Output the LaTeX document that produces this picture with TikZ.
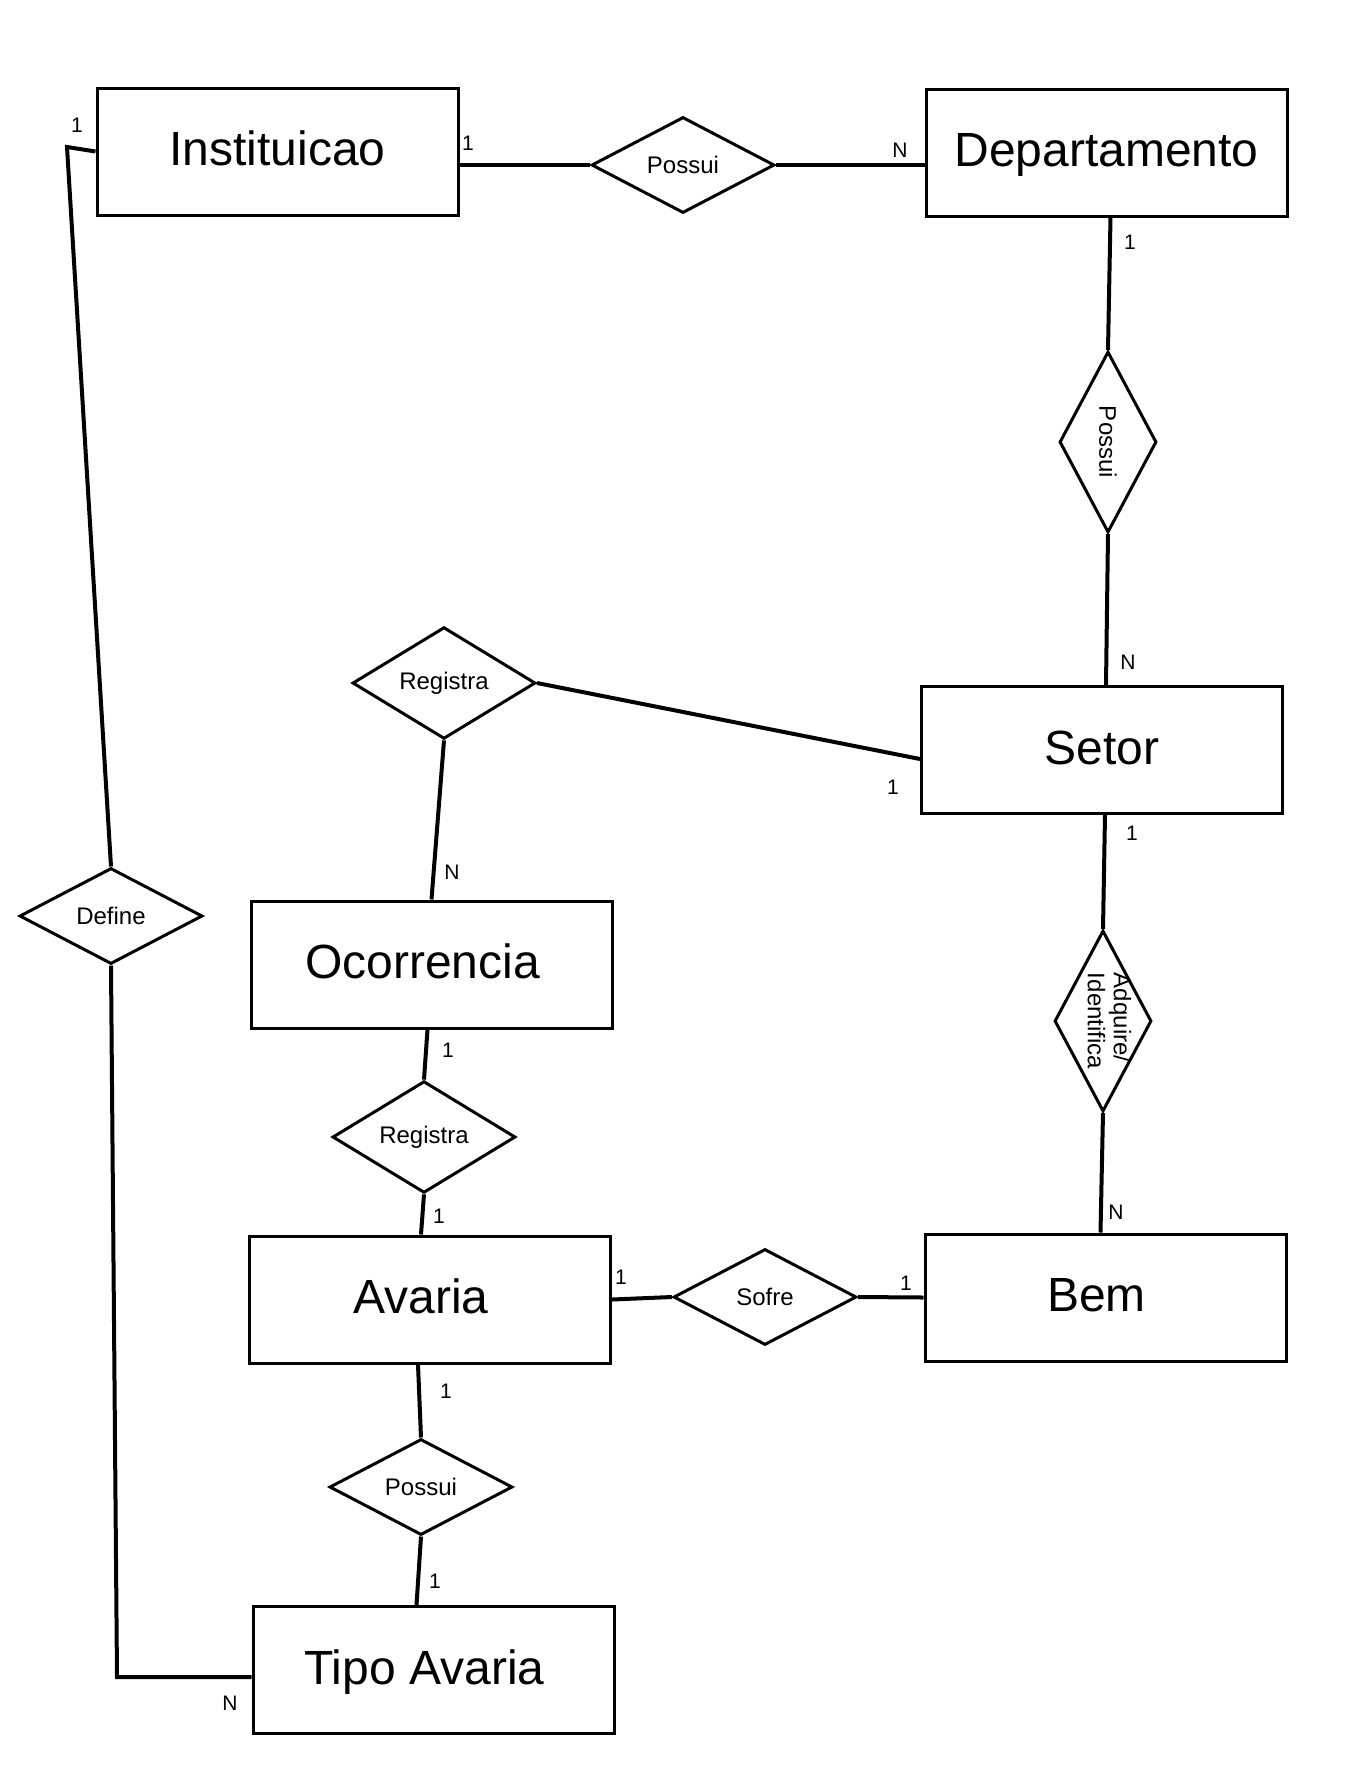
\documentclass[tikz,border=0pt]{standalone}
\usepackage{fontspec}
\setmainfont{Liberation Sans}
\usetikzlibrary{shapes.geometric}

\tikzset{
	entity/.style   = {rectangle,draw,line width=1.5pt,minimum width=180.5pt,minimum height=63.5pt,inner sep=0pt,text height=14pt,text depth=0pt,font=\fontsize{24}{28}\selectfont},
	relation/.style = {diamond,draw,line width=1.5pt,minimum width=91.5pt,minimum height=48pt,inner sep=0pt,font=\fontsize{12}{14}\selectfont},
	relv/.style     = {relation,minimum width=48.5pt,minimum height=90.5pt},
	reltext/.style  = {inner sep=0pt,font=\fontsize{12}{13}\selectfont},
	card/.style     = {inner sep=0pt,font=\fontsize{10.5}{12}\selectfont},
	conn/.style     = {line width=2pt}
}

\begin{document}
\begin{tikzpicture}[x=0.5pt,y=-0.5pt]
			\useasboundingbox (0,0) rectangle (1355,1774);

			% entidades
			\node at ( 277.5, 151.5) [entity] (inst)    {Instituicao};
			\node at (1106.5, 152.5) [entity] (dep)     {Departamento};
			\node at (1102  , 750  ) [entity] (setor)   {Setor};
			\node at ( 431.5, 964.5) [entity] (ocor)    {\hspace*{-9pt}Ocorrencia};
			\node at ( 430  ,1299.5) [entity] (avaria)  {\hspace*{-9pt}Avaria};
			\node at (1105.5,1297.5) [entity] (bem)     {\hspace*{-9pt}Bem};
			\node at ( 433.5,1670  ) [entity] (tipo)    {\hspace*{-9pt}Tipo Avaria};

			% relacionamentos
			\node at ( 683, 165) [relation] (possui_dep)   {Possui};
			\node at (1108, 442) [relv]     (possui_setor) {\rotatebox{-90}{Possui}};
			\node at ( 444, 683) [relation] (registra_oc)  {Registra};
			\node at ( 424,1137) [relation] (registra_av)  {Registra};
			\node at ( 765,1297) [relation] (sofre)        {Sofre};
			\node at (1103,1021) [relv]     (adquire)      {};
			\node at ([xshift=1.5pt]adquire.center) [reltext] (adquire_txt) {\rotatebox{-90}{\begin{tabular}{@{}l@{}}Adquire/\\Identifica\end{tabular}}};
			\node at ( 421,1487) [relation] (possui_tipo)  {Possui};
			\node at ( 111, 916) [relation] (define)       {Define};

			\coordinate (def_top) at ( 67, 147);
			\coordinate (def_bot) at (117,1677);

			\draw[conn] (inst.east |- possui_dep.west) -- (possui_dep.west);
			\draw[conn] (possui_dep.east) -- (possui_dep.east -| dep.west);
			\draw[conn] ([xshift=2pt]dep.south) -- (possui_setor.north);
			\draw[conn] (possui_setor.south) -- ([xshift=2pt]setor.north);
			\draw[conn] (registra_oc.east) -- ([yshift=-4.5pt]setor.west);
			\draw[conn] (registra_oc.south) -- (ocor.north);
			\draw[conn] ([xshift=-2pt]ocor.south) -- (registra_av.north);
			\draw[conn] (registra_av.south) -- ([xshift=-4.5pt]avaria.north);
			\draw[conn] (avaria.east) -- (sofre.west);
			\draw[conn] (sofre.east) -- (bem.west);
			\draw[conn] ([xshift=1.5pt]setor.south) -- (adquire.north);
			\draw[conn] (adquire.south) -- ([xshift=-2.5pt]bem.north);
			\draw[conn] ([xshift=-6pt]avaria.south) -- (possui_tipo.north);
			\draw[conn] (possui_tipo.south) -- ([xshift=-8.5pt]tipo.north);
			\draw[conn] (inst.west) -- (def_top) -- (define.north);
			\draw[conn] (define.south) -- (def_bot) -- ([yshift=-3.5pt]tipo.west);

			% cardinalidades
			\node at ( 468, 143) [card] (c_inst_dep)    {1};
			\node at ( 900, 150) [card] (c_dep_inst)    {N};
			\node at (1130, 242) [card] (c_dep_setor)   {1};
			\node at (1128, 662) [card] (c_setor_dep)   {N};
			\node at ( 893, 787) [card] (c_setor_oc)    {1};
			\node at ( 452, 872) [card] (c_oc_setor)    {N};
			\node at (1132, 833) [card] (c_setor_bem)   {1};
			\node at (1116,1212) [card] (c_bem_setor)   {N};
			\node at ( 448,1050) [card] (c_oc_av)       {1};
			\node at ( 439,1216) [card] (c_av_oc)       {1};
			\node at ( 621,1277) [card] (c_av_bem)      {1};
			\node at ( 906,1283) [card] (c_bem_av)      {1};
			\node at ( 446,1391) [card] (c_av_tipo)     {1};
			\node at ( 435,1581) [card] (c_tipo_av)     {1};
			\node at (  77, 125) [card] (c_inst_tipo)   {1};
			\node at ( 230,1703) [card] (c_tipo_inst)   {N};
		\end{tikzpicture}
\end{document}
